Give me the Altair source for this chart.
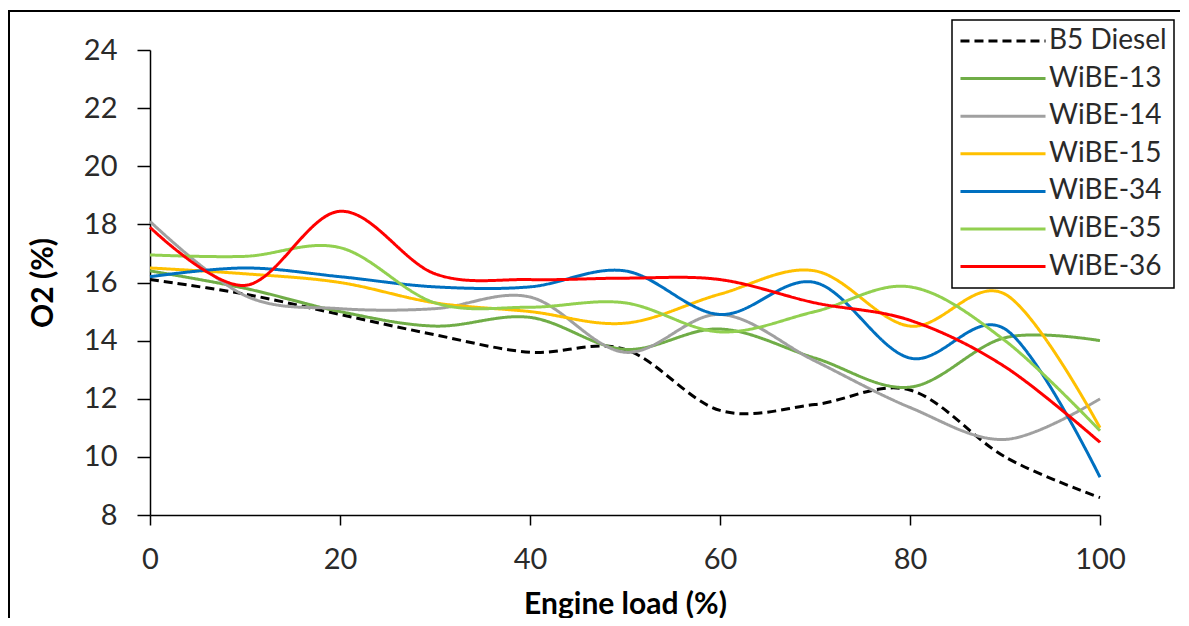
import altair as alt
import pandas as pd

loads = [0, 10, 20, 30, 40, 50, 60, 70, 80, 90, 100]
b5_diesel = [16.1, 15.6, 14.9, 14.2, 13.6, 13.7, 11.6, 11.8, 12.3, 10.0, 8.6]
wibe_13 = [16.4, 15.8, 15.0, 14.5, 14.8, 13.7, 14.4, 13.4, 12.4, 14.1, 14.0]
wibe_14 = [18.1, 15.55, 15.1, 15.1, 15.5, 13.6, 14.9, 13.3, 11.7, 10.6, 12.0]
wibe_15 = [16.5, 16.3, 16.0, 15.3, 15.0, 14.6, 15.6, 16.4, 14.5, 15.6, 11.0]
wibe_34 = [16.2, 16.5, 16.2, 15.85, 15.85, 16.4, 14.9, 16.0, 13.4, 14.4, 9.3]
wibe_35 = [16.95, 16.9, 17.2, 15.3, 15.15, 15.3, 14.3, 15.0, 15.85, 14.0, 10.9]
wibe_36 = [17.9, 15.9, 18.45, 16.3, 16.1, 16.15, 16.1, 15.3, 14.7, 13.1, 10.5]

series_names = ["B5 Diesel", "WiBE-13", "WiBE-14", "WiBE-15", "WiBE-34", "WiBE-35", "WiBE-36"]
series_values = [b5_diesel, wibe_13, wibe_14, wibe_15, wibe_34, wibe_35, wibe_36]
series_colors = ["#000000", "#70AD47", "#A0A0A0", "#FFC000", "#0070C0", "#92D050", "#FF0000"]
series_dash = [[9, 5], [1, 0], [1, 0], [1, 0], [1, 0], [1, 0], [1, 0]]

rows = []
for name, vals in zip(series_names, series_values):
    for x, y in zip(loads, vals):
        rows.append({"load": x, "o2": y, "series": name})
df = pd.DataFrame(rows)

FONT = "Lato"

lines = alt.Chart(df).mark_line(
    interpolate="cardinal", tension=0, strokeWidth=3
).encode(
    x=alt.X("load:Q", scale=alt.Scale(domain=[0, 100], nice=False),
            axis=alt.Axis(values=[0, 20, 40, 60, 80, 100], title="Engine load (%)",
                          tickSize=10, labelPadding=20, labelFlush=False, titleX=475, titleY=98,
                          titleBaseline="alphabetic", titleAnchor="middle", titleAlign="center")),
    y=alt.Y("o2:Q", scale=alt.Scale(domain=[8, 24], nice=False),
            axis=alt.Axis(values=list(range(8, 25, 2)), title="O2 (%)",
                          tickSize=13, labelPadding=20, labelFlush=False, titleX=-107, titleY=232.5,
                          titleAngle=270, titleBaseline="middle", titleAlign="center")),
    color=alt.Color("series:N", scale=alt.Scale(domain=series_names, range=series_colors),
                    legend=alt.Legend(title=None)),
    strokeDash=alt.StrokeDash("series:N", scale=alt.Scale(domain=series_names, range=series_dash),
                              legend=alt.Legend(title=None)),
)

frame_left = alt.Chart(alt.Data(values=[{"k": 1}])).mark_rule(color="#000", strokeWidth=2).encode(
    x=alt.value(-141), y=alt.value(-39), y2=alt.value(575))
frame_top = alt.Chart(alt.Data(values=[{"k": 1}])).mark_rule(color="#000", strokeWidth=2).encode(
    x=alt.value(-142), x2=alt.value(1035), y=alt.value(-39))

chart = alt.layer(frame_left, frame_top, lines).properties(
    width=950, height=465,
    autosize=alt.AutoSizeParams(type="none"),
    padding={"left": 142, "top": 42, "right": 80, "bottom": 103},
).configure_view(stroke=None).configure_axis(
    grid=False, domainColor="#000", domainWidth=1.5, tickColor="#000", tickWidth=1.5,
    labelFont=FONT, labelFontSize=29, labelColor="#2a2a2a",
    titleFont=FONT, titleFontSize=30, titleFontWeight="bold", titleColor="#000",
).configure_legend(
    orient="none", legendX=802, legendY=-30, padding=7,
    strokeColor="#000", fillColor="#fff", strokeWidth=1.5,
    symbolType="M-4,0H4", symbolSize=452, symbolStrokeWidth=3, symbolOffset=30,
    labelFont=FONT, labelFontSize=28, labelColor="#2a2a2a", labelOffset=32,
    rowPadding=9.6,
)

chart.save("out.html", embed_options={"renderer": "svg", "actions": False})
